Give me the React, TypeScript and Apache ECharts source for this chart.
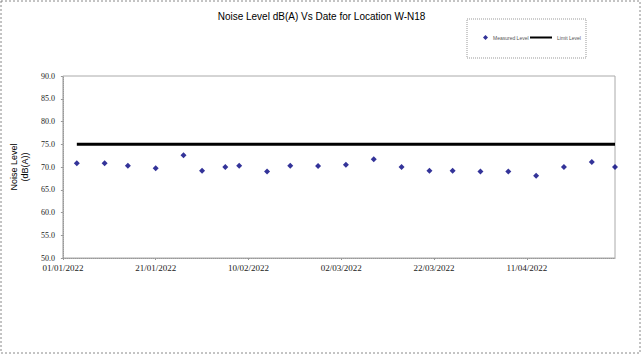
import React, { useEffect, useRef } from "react";
import * as echarts from "echarts";

const title = "Noise Level dB(A) Vs Date for Location W-N18";
const measuredDates = [
  "2022-01-04", "2022-01-10", "2022-01-15", "2022-01-21", "2022-01-27", "2022-01-31",
  "2022-02-05", "2022-02-08", "2022-02-14", "2022-02-19", "2022-02-25", "2022-03-03",
  "2022-03-09", "2022-03-15", "2022-03-21", "2022-03-26", "2022-04-01", "2022-04-07",
  "2022-04-13", "2022-04-19", "2022-04-25", "2022-04-30",
];
const measuredLevels = [
  70.8, 70.8, 70.3, 69.7, 72.6, 69.2,
  70.0, 70.3, 69.0, 70.3, 70.2, 70.5,
  71.7, 70.0, 69.2, 69.2, 69.0, 69.0,
  68.1, 70.0, 71.1, 70.0,
];
const limitLevel = 75;
const axisStartDate = "2022-01-01";
const axisEndDate = "2022-04-30";
const xTickDays = 20;
const yMin = 50;
const yMax = 90;
const yStep = 5;

const DAY = 86400000;
const toMs = (s: string) => {
  const [y, m, d] = s.split("-").map(Number);
  return Date.UTC(y, m - 1, d);
};
const base = toMs(axisStartDate);
const toDay = (s: string) => Math.round((toMs(s) - base) / DAY);
const fmtDay = (v: number) => {
  const dt = new Date(base + v * DAY);
  const dd = String(dt.getUTCDate()).padStart(2, "0");
  const mm = String(dt.getUTCMonth() + 1).padStart(2, "0");
  return `${dd}/${mm}/${dt.getUTCFullYear()}`;
};

export default function App() {
  const ref = useRef<HTMLDivElement>(null);
  useEffect(() => {
    if (!ref.current) return;
    const chart = echarts.init(ref.current, undefined, { renderer: "svg" });
    const measured = measuredDates.map((d, i) => [toDay(d), measuredLevels[i]]);
    const limit = measuredDates.map((d) => [toDay(d), limitLevel]);
    const serif = "Liberation Serif";
    const sans = "Liberation Sans";
    const legendText = { fontFamily: sans, fontSize: 5, color: "#555" };
    chart.setOption({
      animation: false,
      backgroundColor: "#ffffff",
      title: {
        text: title,
        left: "center",
        top: 6,
        textStyle: { fontFamily: sans, fontSize: 10, fontWeight: "normal", color: "#000" },
      },
      legend: [
        {
          left: 483,
          top: 35,
          padding: 0,
          itemWidth: 5,
          itemHeight: 5,
          itemGap: 3,
          textStyle: legendText,
          data: [{ name: "Measured Level", icon: "diamond", itemStyle: { color: "#000080" } }],
        },
        {
          left: 530,
          top: 35,
          padding: 0,
          itemWidth: 22,
          itemHeight: 5,
          itemGap: 1,
          textStyle: legendText,
          data: [
            {
              name: "Limit Level",
              icon: "path://M0 0H22V2H0Z",
              itemStyle: { color: "#000" },
            },
          ],
        },
      ],
      graphic: [
        {
          type: "rect",
          shape: { x: 1, y: 1, width: 639, height: 352 },
          style: { fill: "none", stroke: "#888", lineWidth: 1, lineDash: [2, 2] },
          silent: true,
        },
        {
          type: "rect",
          shape: { x: 467, y: 19, width: 119, height: 39 },
          style: { fill: "none", stroke: "#999", lineWidth: 1, lineDash: [1, 1] },
          silent: true,
        },
      ],
      grid: {
        left: 61,
        right: 28,
        top: 76,
        bottom: 102,
        show: true,
        borderColor: "#aaa",
        borderWidth: 1,
      },
      xAxis: {
        type: "value",
        min: 0,
        max: toDay(axisEndDate),
        interval: xTickDays,
        splitLine: { show: false },
        axisLine: { show: true, lineStyle: { color: "#999", type: "dotted" } },
        axisTick: { show: true, length: 2, lineStyle: { color: "#999" } },
        axisLabel: {
          showMaxLabel: false,
          margin: 5,
          fontFamily: serif,
          fontSize: 9,
          color: "#222",
          formatter: (v: number) => (v % xTickDays === 0 ? fmtDay(v) : ""),
        },
      },
      yAxis: {
        type: "value",
        min: yMin,
        max: yMax,
        interval: yStep,
        splitLine: { show: false },
        axisLine: { show: true, lineStyle: { color: "#999", type: "dotted" } },
        axisTick: { show: true, length: 2, lineStyle: { color: "#999" } },
        axisLabel: {
          margin: 8,
          fontFamily: serif,
          fontSize: 8,
          color: "#222",
          formatter: (v: number) => v.toFixed(1),
        },
        name: "Noise Level\n(dB(A))",
        nameLocation: "middle",
        nameRotate: 90,
        nameGap: 32,
        nameTextStyle: { fontFamily: sans, fontSize: 9, color: "#000", lineHeight: 11 },
      },
      series: [
        {
          name: "Limit Level",
          type: "line",
          data: limit,
          showSymbol: false,
          symbol: "none",
          lineStyle: { color: "#000", width: 3 },
          itemStyle: { color: "#000" },
          z: 2,
        },
        {
          name: "Measured Level",
          type: "scatter",
          data: measured,
          symbol: "diamond",
          symbolSize: 6,
          itemStyle: { color: "#000080" },
          z: 3,
        },
      ],
    });
    return () => chart.dispose();
  }, []);
  return (
    <div
      ref={ref}
      style={{ position: "fixed", left: 0, top: 0, width: 643, height: 360, background: "#fff" }}
    />
  );
}
